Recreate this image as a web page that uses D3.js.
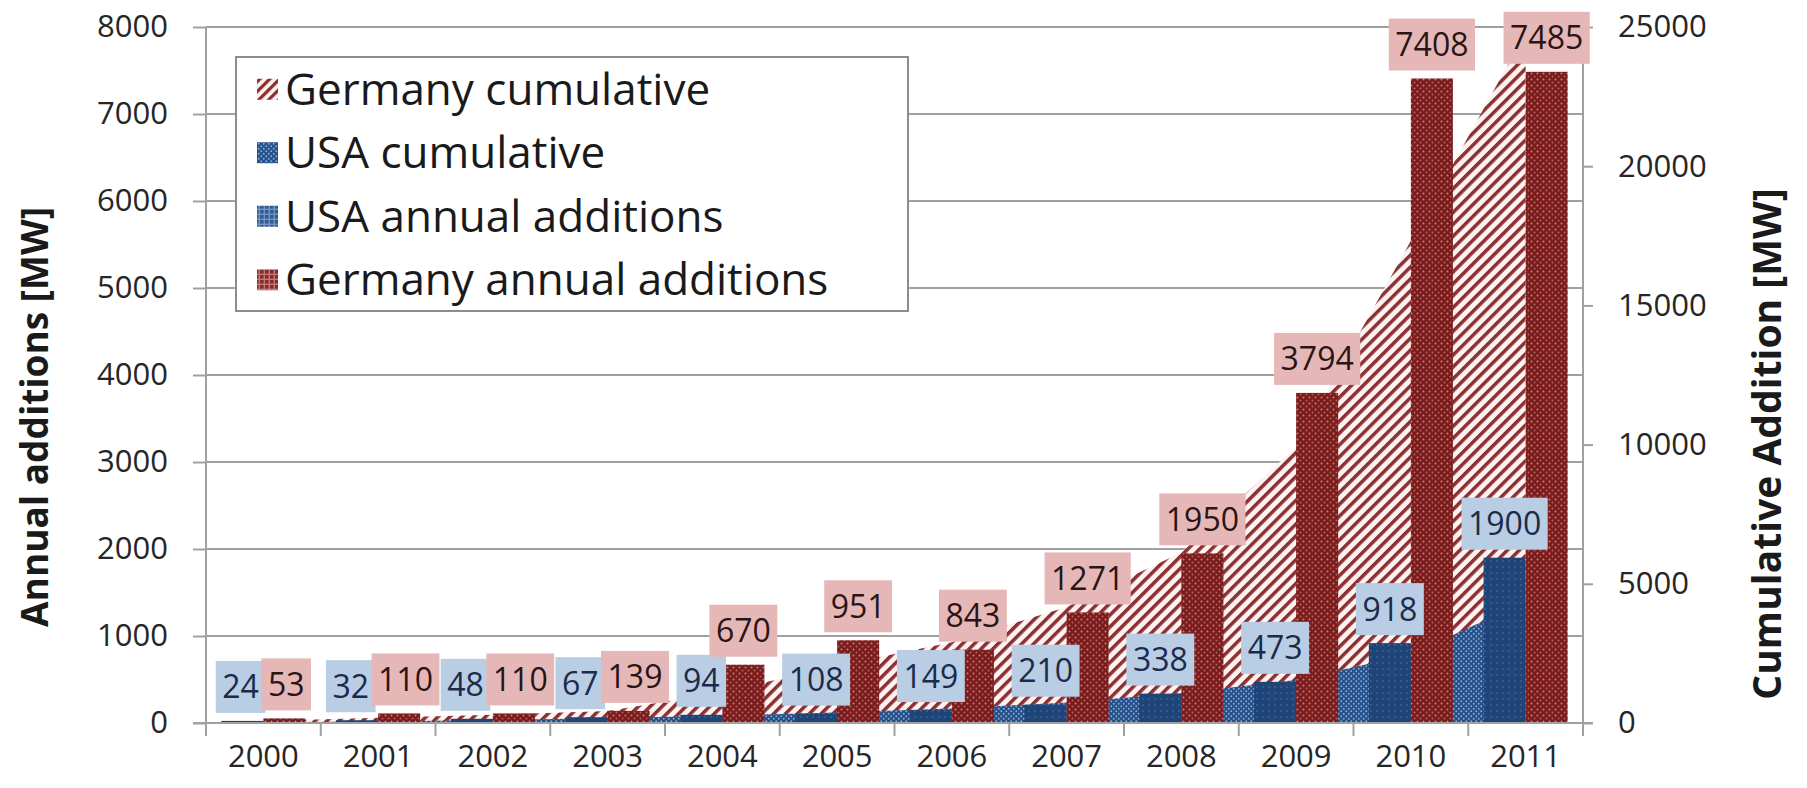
<!DOCTYPE html>
<html><head><meta charset="utf-8">
<script src="https://cdn.jsdelivr.net/npm/d3@7"></script>
<style>
body{margin:0;background:#fff;}
svg text{font-family:'Open Sans',sans-serif;}
</style>
</head><body>
<svg id="chart" width="1807" height="788"></svg>
<script>
// ---------------- data ----------------
const years = ["2000","2001","2002","2003","2004","2005","2006","2007","2008","2009","2010","2011"];
const usaAnnual = [24,32,48,67,94,108,149,210,338,473,918,1900];
const germanyAnnual = [53,110,110,139,670,951,843,1271,1950,3794,7408,7485];
const usaCumulative = [24,56,104,171,265,373,522,732,1070,1543,2461,4361];
const germanyCumulative = [76,186,296,435,1105,2056,2899,4170,6120,9914,17320,24800];
const leftTicks = [0,1000,2000,3000,4000,5000,6000,7000,8000];
const rightTicks = [0,5000,10000,15000,20000,25000];
const legendLabels = ["Germany cumulative","USA cumulative","USA annual additions","Germany annual additions"];
const leftTitle = "Annual additions [MW]";
const rightTitle = "Cumulative Addition [MW]";

// ---------------- setup ----------------
const svg = d3.select("#chart");
const plotL = 206, plotR = 1583, plotT = 27, plotB = 723;

const x = d3.scaleBand().domain(years).range([plotL, plotR]).padding(0);
const xs = d3.scaleBand().domain(["USA","Germany"]).range([0, x.bandwidth()]).paddingInner(0).paddingOuter(0.365);
const yL = d3.scaleLinear().domain([0, 8000]).range([plotB, plotT]);
const yR = d3.scaleLinear().domain([0, 25000]).range([plotB, plotT]);

const defs = svg.append("defs");
// Germany cumulative hatch
const hp = 8.4;
const ph = defs.append("pattern").attr("id","hatchDE").attr("patternUnits","userSpaceOnUse")
  .attr("width",hp).attr("height",hp).attr("patternTransform","rotate(45)");
ph.append("rect").attr("width",hp).attr("height",hp).attr("fill","#fdf1f1");
ph.append("rect").attr("width",3.5).attr("height",hp).attr("fill","#8a3030");
// USA cumulative dots
const pu = defs.append("pattern").attr("id","dotsUSAcum").attr("patternUnits","userSpaceOnUse")
  .attr("width",5).attr("height",5);
pu.append("rect").attr("width",5).attr("height",5).attr("fill","#24508a");
pu.append("circle").attr("cx",1.25).attr("cy",1.25).attr("r",0.95).attr("fill","#8aaad4");
pu.append("circle").attr("cx",3.75).attr("cy",3.75).attr("r",0.95).attr("fill","#8aaad4");
// USA annual
const pa = defs.append("pattern").attr("id","usaAnn").attr("patternUnits","userSpaceOnUse")
  .attr("width",6).attr("height",6);
pa.append("rect").attr("width",6).attr("height",6).attr("fill","#1f4477");
pa.append("circle").attr("cx",3).attr("cy",3).attr("r",0.9).attr("fill","#3d6496");
// Germany annual
const pg = defs.append("pattern").attr("id","deAnn").attr("patternUnits","userSpaceOnUse")
  .attr("width",6).attr("height",6);
pg.append("rect").attr("width",6).attr("height",6).attr("fill","#7a1c1c");
pg.append("circle").attr("cx",1.5).attr("cy",1.5).attr("r",1).attr("fill","#c98080");
pg.append("circle").attr("cx",4.5).attr("cy",4.5).attr("r",1).attr("fill","#b06060");
// legend grid swatches
const lu = defs.append("pattern").attr("id","usaGrid").attr("patternUnits","userSpaceOnUse")
  .attr("width",5).attr("height",5);
lu.append("rect").attr("width",5).attr("height",5).attr("fill","#7396c0");
lu.append("rect").attr("width",3.6).attr("height",3.6).attr("fill","#2f5c92");
const lg = defs.append("pattern").attr("id","deGrid").attr("patternUnits","userSpaceOnUse")
  .attr("width",5).attr("height",5);
lg.append("rect").attr("width",5).attr("height",5).attr("fill","#c07a7a");
lg.append("rect").attr("width",3.6).attr("height",3.6).attr("fill","#8a2a2a");
const ls = defs.append("pattern").attr("id","hatchLegend").attr("patternUnits","userSpaceOnUse")
  .attr("width",7).attr("height",7).attr("patternTransform","rotate(45)");
ls.append("rect").attr("width",7).attr("height",7).attr("fill","#fdf1f1");
ls.append("rect").attr("width",3.2).attr("height",7).attr("fill","#8a3030");

const gridColor = "#a0a0a0";

// gridlines (left axis ticks)
svg.append("g").selectAll("line").data(leftTicks.filter(d => d > 0)).join("line")
  .attr("x1", plotL).attr("x2", plotR)
  .attr("y1", d => yL(d)).attr("y2", d => yL(d))
  .attr("stroke", gridColor).attr("stroke-width", 2);

// areas
const cx = i => x(years[i]) + x.bandwidth()/2;
const area = d3.area().x((d,i) => cx(i)).y0(yR(0)).y1(d => yR(d));
svg.append("path").datum(germanyCumulative).attr("d", area).attr("fill","url(#hatchDE)");
svg.append("path").datum(usaCumulative).attr("d", area).attr("fill","url(#dotsUSAcum)");

// bars
const barData = years.map((y,i) => ({year:y, usa:usaAnnual[i], de:germanyAnnual[i]}));
svg.append("g").selectAll("rect").data(barData).join("rect")
  .attr("x", d => x(d.year) + xs("USA")).attr("width", xs.bandwidth())
  .attr("y", d => yL(d.usa)).attr("height", d => yL(0) - yL(d.usa))
  .attr("fill","url(#usaAnn)");
svg.append("g").selectAll("rect").data(barData).join("rect")
  .attr("x", d => x(d.year) + xs("Germany")).attr("width", xs.bandwidth())
  .attr("y", d => yL(d.de)).attr("height", d => yL(0) - yL(d.de))
  .attr("fill","url(#deAnn)");

// axes
const fmt = d3.format("d");
const axL = svg.append("g").attr("transform", `translate(${plotL},0)`)
  .call(d3.axisLeft(yL).tickValues(leftTicks).tickFormat(fmt).tickSizeInner(13).tickSizeOuter(0).tickPadding(25));
const axR = svg.append("g").attr("transform", `translate(${plotR},0)`)
  .call(d3.axisRight(yR).tickValues(rightTicks).tickFormat(fmt).tickSizeInner(10).tickSizeOuter(0).tickPadding(25));
const axB = svg.append("g").attr("transform", `translate(0,${plotB})`)
  .call(d3.axisBottom(x).tickSize(0).tickPadding(22));
[axL, axR, axB].forEach(a => {
  a.select(".domain").remove();
  a.selectAll("line").attr("stroke", gridColor).attr("stroke-width", 2);
  a.selectAll("text").attr("font-size", 31).attr("fill","#262626").attr("font-family","'Open Sans',sans-serif");
});
// baseline + axis lines + category ticks
svg.append("line").attr("x1", plotL-13).attr("x2", plotR+10).attr("y1", plotB).attr("y2", plotB)
  .attr("stroke", gridColor).attr("stroke-width", 2);
svg.append("line").attr("x1", plotL).attr("x2", plotL).attr("y1", plotT).attr("y2", plotB+13)
  .attr("stroke", gridColor).attr("stroke-width", 2);
svg.append("line").attr("x1", plotR).attr("x2", plotR).attr("y1", plotT).attr("y2", plotB+13)
  .attr("stroke", gridColor).attr("stroke-width", 2);
svg.append("g").selectAll("line").data(years.slice(1)).join("line")
  .attr("x1", d => x(d)).attr("x2", d => x(d)).attr("y1", plotB).attr("y2", plotB+13)
  .attr("stroke", gridColor).attr("stroke-width", 2);

// axis titles
svg.append("text").attr("transform", `translate(48,417) rotate(-90)`)
  .attr("text-anchor","middle").attr("font-size",37).attr("font-weight","bold").attr("fill","#1a1a1a")
  .text(leftTitle);
svg.append("text").attr("transform", `translate(1781,444) rotate(-90)`)
  .attr("text-anchor","middle").attr("font-size",39).attr("font-weight","bold").attr("fill","#1a1a1a")
  .text(rightTitle);

// legend
const lgG = svg.append("g");
lgG.append("rect").attr("x",236).attr("y",57).attr("width",672).attr("height",254)
  .attr("fill","#fff").attr("stroke","#8c8c8c").attr("stroke-width",2);
const legendFills = ["url(#hatchLegend)","url(#dotsUSAcum)","url(#usaGrid)","url(#deGrid)"];
const rowY = d3.scaleBand().domain(legendLabels).range([57, 311]);
legendLabels.forEach((lab, i) => {
  const cy = rowY(lab) + rowY.bandwidth()/2;
  lgG.append("rect").attr("x",257).attr("y",cy-10).attr("width",21).attr("height",21).attr("fill",legendFills[i]);
  lgG.append("text").attr("x",285).attr("y",cy).attr("dy","0.36em").attr("font-size",44).attr("fill","#1a1a1a").text(lab);
});

// data labels (outside end, nudged apart when they collide within a year)
const boxH = 52, gap = 8, padX = 13, fontL = 32;
const measurer = svg.append("text").attr("font-size", fontL).attr("visibility","hidden");
function textW(s){ measurer.text(s); return measurer.node().getComputedTextLength(); }
const labelSpecs = { USA: [], Germany: [] };
years.forEach((yr, i) => {
  const mk = (key, v) => {
    const w = textW(String(v)) + padX;
    const top = yL(v) - gap - boxH;
    return { v, w, top, cx: x(yr) + xs(key) + xs.bandwidth()/2 };
  };
  const u = mk("USA", usaAnnual[i]), g = mk("Germany", germanyAnnual[i]);
  const vOverlap = Math.min(u.top + boxH, g.top + boxH) - Math.max(u.top, g.top);
  const hOverlap = (u.w/2 + g.w/2) - (g.cx - u.cx);
  if (vOverlap > 10 && hOverlap > 4) {
    const s = (hOverlap - 4) / 2;
    u.cx -= s; g.cx += s;
  }
  labelSpecs.USA.push(u); labelSpecs.Germany.push(g);
});
measurer.remove();
function drawLabels(specs, boxColor, textColor) {
  const g = svg.append("g");
  g.selectAll("rect").data(specs).join("rect")
    .attr("x", d => d.cx - d.w/2).attr("y", d => d.top).attr("width", d => d.w).attr("height", boxH)
    .attr("fill", boxColor);
  g.selectAll("text").data(specs).join("text")
    .attr("x", d => d.cx).attr("y", d => d.top + boxH/2).attr("dy","0.36em")
    .attr("text-anchor","middle").attr("font-size", fontL).attr("fill", textColor).text(d => d.v);
}
drawLabels(labelSpecs.USA, "#b9cde4", "#1c2b4a");
drawLabels(labelSpecs.Germany, "#e5b8b7", "#2a1414");
</script>
</body></html>
